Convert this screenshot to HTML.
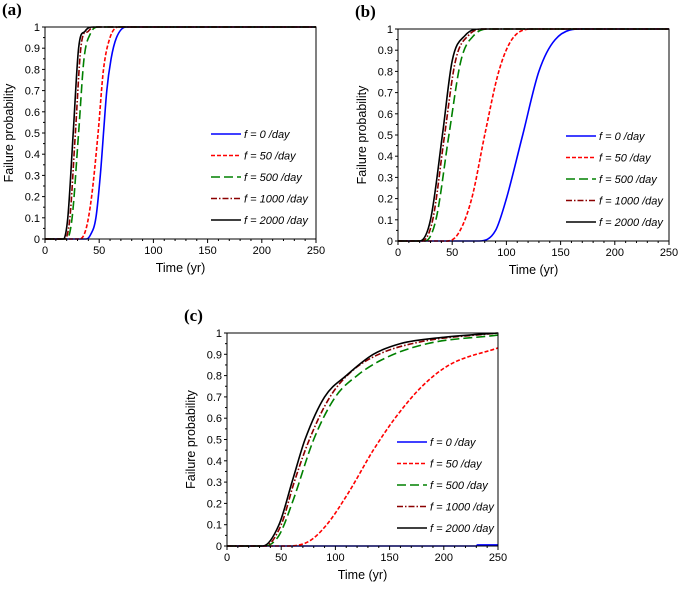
<!DOCTYPE html>
<html><head><meta charset="utf-8"><style>
html,body{margin:0;padding:0;background:#fff;width:685px;height:589px;overflow:hidden}
svg text{font-family:"Liberation Sans",sans-serif}
</style></head><body>
<svg id="fig" width="685" height="589" xmlns="http://www.w3.org/2000/svg"></svg>
<script>
const seriesLabels=["0","50","500","1000","2000"];
const yTicks=[0,0.1,0.2,0.3,0.4,0.5,0.6,0.7,0.8,0.9,1];
const xTicks=[0,50,100,150,200,250];
// panel a
const aT0=[0,38,42,47,51,54,57,61,66,75,250];const aP0=[0,0,0.02,0.1,0.3,0.5,0.7,0.85,0.95,1,1];
const aT50=[0,32,38,43,49,54,60,68,250];const aP50=[0,0,0.05,0.2,0.5,0.8,0.95,1,1];
const aT500=[0,20,25,31,36,42,50,250];const aP500=[0,0,0.1,0.5,0.85,0.97,1,1];
const aT1000=[0,18,23,28,33,40,47,250];const aP1000=[0,0,0.1,0.5,0.9,0.98,1,1];
const aT2000=[0,17,21,26,31,37,45,250];const aP2000=[0,0,0.1,0.5,0.9,0.98,1,1];
// panel b
const bT0=[0,75,90,100,115,130,145,175,250];const bP0=[0,0,0.05,0.2,0.5,0.8,0.95,1,1];
const bT50=[0,40,55,68,80,93,105,125,250];const bP50=[0,0,0.03,0.2,0.5,0.8,0.95,1,1];
const bT500=[0,25,35,47,58,70,85,250];const bP500=[0,0,0.1,0.5,0.85,0.97,1,1];
const bT1000=[0,22,32,43,53,65,80,250];const bP1000=[0,0,0.1,0.5,0.85,0.97,1,1];
const bT2000=[0,20,30,41,50,62,78,250];const bP2000=[0,0,0.1,0.5,0.85,0.97,1,1];
// panel c
const cT0=[0,230,231,250];const cP0=[0,0,0.005,0.005];
const cT50=[0,50,75,92,112,135,155,180,205,250];const cP50=[0,0,0.02,0.1,0.25,0.45,0.6,0.75,0.85,0.93];
const cT500=[0,35,48,60,80,100,120,145,185,250];const cP500=[0,0,0.05,0.2,0.5,0.7,0.8,0.88,0.95,0.99];
const cT1000=[0,35,50,62,76,95,115,140,180,250];const cP1000=[0,0,0.1,0.3,0.5,0.7,0.82,0.9,0.96,1];
const cT2000=[0,33,48,60,72,90,110,135,160,200,250];const cP2000=[0,0,0.1,0.3,0.5,0.7,0.8,0.9,0.95,0.98,1];

const styles=[{c:"#0000ff",d:""},{c:"#ff0000",d:"4,2"},{c:"#008000",d:"9,4"},{c:"#8b0000",d:"6,2,1.5,2"},{c:"#000",d:""}];
const NS="http://www.w3.org/2000/svg";const svg=document.getElementById('fig');
function mk(tag,attrs,parent){const e=document.createElementNS(NS,tag);for(const k in attrs)e.setAttribute(k,attrs[k]);(parent||svg).appendChild(e);return e;}
function smooth(xs,ys){ // monotone cubic path
  const n=xs.length,d=[],m=[];
  for(let i=0;i<n-1;i++)d.push((ys[i+1]-ys[i])/(xs[i+1]-xs[i]||1e-6));
  m[0]=d[0];m[n-1]=d[n-2];
  for(let i=1;i<n-1;i++)m[i]=(d[i-1]*d[i]<=0)?0:(d[i-1]+d[i])/2;
  let p='M'+xs[0].toFixed(1)+','+ys[0].toFixed(1);
  for(let i=0;i<n-1;i++){const h=(xs[i+1]-xs[i])/3;
    p+=' C'+(xs[i]+h).toFixed(1)+','+(ys[i]+m[i]*h).toFixed(1)+' '+(xs[i+1]-h).toFixed(1)+','+(ys[i+1]-m[i+1]*h).toFixed(1)+' '+xs[i+1].toFixed(1)+','+ys[i+1].toFixed(1);}
  return p;}
function panel(id,x0,x1,y0,y1,data,lx,ly){
  const g=mk('g',{});
  
  
  const sx=t=>x0+(x1-x0)*t/250, sy=p=>y0-(y0-y1)*p;
  const pl=mk('text',{x:x0-43,y:y1-12,style:'font-family:"Liberation Serif",serif;font-size:17px;font-weight:bold'},g);pl.textContent='('+id+')';
  
  
  data.forEach((s,i)=>{
    const l=mk('path',{d:smooth(s[0].map(sx),s[1].map(sy)),fill:'none',stroke:styles[i].c,'stroke-width':1.6,'stroke-dasharray':styles[i].d},g);
    
    
  });
  const fr=mk('rect',{x:x0,y:y1,width:x1-x0,height:y0-y1,fill:'none',stroke:'#000','stroke-width':1},g);
  
  
  yTicks.forEach(v=>{const y=sy(v);mk('line',{x1:x0-3,x2:x0,y1:y,y2:y,stroke:'#000'},g);
    const t=mk('text',{x:x0-5,y:y+4,'font-size':11,'text-anchor':'end'},g);t.textContent=String(v);
    
    
    if(v<1){const ym=sy(v+0.05);mk('line',{x1:x0-2,x2:x0,y1:ym,y2:ym,stroke:'#000'},g);}});
  for(let t=0;t<=250;t+=10){const x=sx(t);mk('line',{x1:x,x2:x,y1:y0,y2:y0+(t%50==0?4:2),stroke:'#000'},g);}
  xTicks.forEach(v=>{const t=mk('text',{x:sx(v),y:y0+15,'font-size':11,'text-anchor':'middle'},g);t.textContent=String(v);
    
    });
  const xt=mk('text',{x:(x0+x1)/2,y:y0+33,'font-size':12.5,'text-anchor':'middle'},g);xt.textContent='Time (yr)';
  
  
  const yt=mk('text',{x:0,y:0,'font-size':12.5,'text-anchor':'middle',transform:`translate(${x0-32},${(y0+y1)/2}) rotate(-90)`},g);yt.textContent='Failure probability';
  
  
  seriesLabels.forEach((s,i)=>{const y=ly+i*21.5;
    const le=mk('g',{},g);
    
    
    mk('line',{x1:lx,x2:lx+30,y1:y,y2:y,stroke:styles[i].c,'stroke-width':1.6,'stroke-dasharray':styles[i].d},le);
    const t=mk('text',{x:lx+33,y:y+4,'font-size':11,'font-style':'italic'},le);t.textContent='f = '+s+' /day';});
}
panel('a',45,316,239,27,[[aT0,aP0],[aT50,aP50],[aT500,aP500],[aT1000,aP1000],[aT2000,aP2000]],211,134);
panel('b',398,669,241,29,[[bT0,bP0],[bT50,bP50],[bT500,bP500],[bT1000,bP1000],[bT2000,bP2000]],566,136);
panel('c',227,498,546,333,[[cT0,cP0],[cT50,cP50],[cT500,cP500],[cT1000,cP1000],[cT2000,cP2000]],397,442);
</script>
</body></html>
